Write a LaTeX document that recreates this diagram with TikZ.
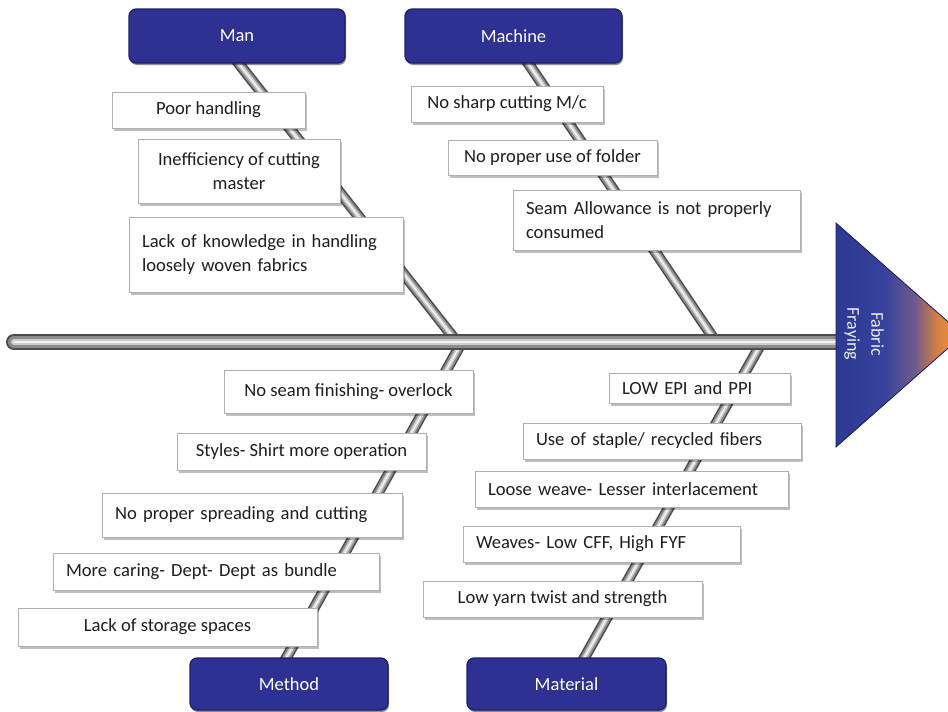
\documentclass[tikz,border=0pt]{standalone}
\usepackage{fontspec}
\setmainfont{Carlito}
\usetikzlibrary{shadows,calc}
\definecolor{catblue}{HTML}{2E3192}
\definecolor{catedge}{HTML}{1C1F66}
\definecolor{boxedge}{HTML}{B0B0B0}
\definecolor{hb1}{HTML}{2C3A94}
\definecolor{hb2}{HTML}{36429C}
\definecolor{hmid}{HTML}{6E5A8E}
\definecolor{hor1}{HTML}{D9803F}
\definecolor{hor}{HTML}{F59A45}
\pgfdeclarehorizontalshading{headshade}{100bp}{color(0bp)=(hb1); color(25bp)=(hb1); color(44bp)=(hb2); color(56bp)=(hmid); color(65bp)=(hor1); color(75bp)=(hor); color(100bp)=(hor)}
\tikzset{
  cause/.style={draw=boxedge, fill=white, line width=0.8pt, inner xsep=13pt, inner ysep=0pt,
    font=\fontsize{18.6}{24.5}\selectfont, text=black!88,
    drop shadow={shadow xshift=1.5pt, shadow yshift=-2.5pt, fill=black, opacity=0.25}},
  lcause/.style={cause, align=left},
  ccause/.style={cause, align=center},
  cat/.style={draw=catedge, line width=1.2pt, fill=catblue, rounded corners=7pt, text=white,
    font=\fontsize{18.5}{22}\selectfont,
    drop shadow={shadow xshift=1pt, shadow yshift=-2pt, fill=black, opacity=0.45}},
  bone/.style={line width=11pt, draw=black!70,
    postaction={draw=black!45, line width=8pt},
    postaction={draw=black!20, line width=4.5pt},
    postaction={draw=white!95!black, line width=1.5pt}},
  spine/.style={line width=16pt, draw=black!70, line cap=round,
    postaction={draw=black!45, line width=12pt, line cap=round},
    postaction={draw=black!20, line width=6pt, line cap=round},
    postaction={draw=white!95!black, line width=2pt, line cap=round}},
  effect/.style={text=white!92!black, font=\fontsize{18}{24}\selectfont, align=center, rotate=-90},
}
\begin{document}
\begin{tikzpicture}[x=1pt, y=-1pt]
\useasboundingbox (0,0) rectangle (948,712);
\clip (0,0) rectangle (948,712);
\fill[white] (0,0) rectangle (948,712);

% bone end points
\coordinate (b1a) at (236,60);  \coordinate (b1b) at (457,342);
\coordinate (b2a) at (526,60);  \coordinate (b2b) at (716,342);
\coordinate (b3a) at (462,342); \coordinate (b3b) at (284,662);
\coordinate (b4a) at (762,342); \coordinate (b4b) at (582,662);
\coordinate (spL) at (14,342);  \coordinate (spR) at (842,342);

\draw[bone] (b1a) -- (b1b);
\draw[bone] (b2a) -- (b2b);
\draw[bone] (b3a) -- (b3b);
\draw[bone] (b4a) -- (b4b);
\draw[spine] (spL) -- (spR);

% head
\coordinate (h1) at (836,223); \coordinate (h2) at (836,447); \coordinate (h3) at (963,335);
\fill[shading=headshade, draw=catedge, line width=0.8pt] (h1) -- (h2) -- (h3) -- cycle;
\node[effect] (eff) at (864,334) {Fabric\\Fraying};

% categories
\node[cat, minimum width=216pt, minimum height=54pt] (man) at (237,36) {Man};
\node[cat, minimum width=217pt, minimum height=54pt] (machine) at (513.5,36) {Machine};
\node[cat, minimum width=198pt, minimum height=52pt] (method) at (289,684) {Method};
\node[cat, minimum width=199pt, minimum height=52pt] (material) at (566.5,684) {Material};

% Man causes
\node[ccause, minimum width=193pt, minimum height=36pt] (m1) at (208.5,110) {Poor handling};
\node[ccause, minimum width=202pt, minimum height=64pt] (m2) at (239,171) {Inefficiency of cutting\\master};
\node[lcause, minimum width=274pt, text width=248pt, minimum height=75pt] (m3) at (266,254.5) {Lack of knowledge in handling\\loosely woven fabrics\\[4pt]};

% Machine causes
\node[ccause, minimum width=192pt, minimum height=36pt] (c1) at (507,104) {No sharp cutting M/c};
\node[ccause, minimum width=209pt, minimum height=35pt] (c2) at (552.5,157.5) {No proper use of folder};
\node[lcause, minimum width=287pt, text width=261pt, minimum height=60pt] (c3) at (656.5,220) {Seam Allowance is not properly\\consumed};

% Method causes
\node[ccause, minimum width=249pt, minimum height=43pt] (d1) at (348.5,391.5) {No seam finishing- overlock};
\node[ccause, minimum width=249pt, minimum height=37pt] (d2) at (301.5,451.5) {Styles- Shirt more operation};
\node[lcause, minimum width=300pt, text width=274pt, minimum height=44pt] (d3) at (252,515) {No proper spreading and cutting};
\node[lcause, minimum width=326pt, text width=300pt, minimum height=37pt] (d4) at (216,571.5) {More caring- Dept- Dept as bundle};
\node[ccause, minimum width=299pt, minimum height=38pt] (d5) at (167.5,627) {Lack of storage spaces};

% Material causes
\node[lcause, minimum width=181pt, text width=155pt, minimum height=30pt] (e1) at (699.5,388) {LOW EPI and PPI};
\node[lcause, minimum width=278pt, text width=252pt, minimum height=36pt] (e2) at (662,441) {Use of staple/ recycled fibers};
\node[lcause, minimum width=313pt, text width=287pt, minimum height=36pt] (e3) at (631.5,489) {Loose weave- Lesser interlacement};
\node[lcause, minimum width=277pt, text width=251pt, minimum height=36pt] (e4) at (601.5,544) {Weaves- Low CFF, High FYF};
\node[ccause, minimum width=279pt, minimum height=36pt] (e5) at (562.5,599) {Low yarn twist and strength};
\end{tikzpicture}
\end{document}
